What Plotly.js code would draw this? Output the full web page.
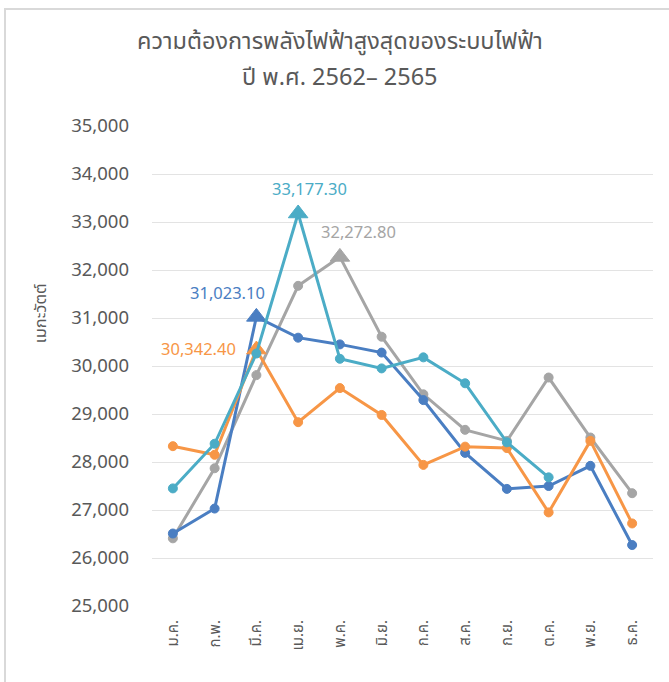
<!DOCTYPE html>
<html>
<head>
<meta charset="utf-8">
<script src="https://cdn.plot.ly/plotly-3.0.1.min.js"></script>
<style>
  html, body { margin: 0; padding: 0; background: #fff; overflow: hidden; }
  #chart { width: 669px; height: 682px; }
  #frame { position: absolute; left: 4px; top: 8px; width: 720px; height: 720px;
           border-left: 2px solid #d9d9d9; border-top: 2px solid #d9d9d9; pointer-events: none; }
</style>
</head>
<body>
<div id="chart"></div>
<div id="frame"></div>
<script>
// ---- data ----
const months = ["ม.ค.", "ก.พ.", "มี.ค.", "เม.ย.", "พ.ค.", "มิ.ย.", "ก.ค.", "ส.ค.", "ก.ย.", "ต.ค.", "พ.ย.", "ธ.ค."];
const y2562 = [26410, 27870, 29810, 31670, 32272.8, 30610, 29410, 28670, 28440, 29760, 28510, 27350];
const y2563 = [26510, 27030, 31023.1, 30590, 30450, 30280, 29290, 28190, 27440, 27500, 27920, 26270];
const y2564 = [28330, 28150, 30342.4, 28830, 29540, 28980, 27940, 28320, 28290, 26950, 28440, 26720];
const y2565 = [27450, 28380, 30260, 33177.3, 30150, 29950, 30180, 29640, 28410, 27680, null, null];
const yTicks = [25000, 26000, 27000, 28000, 29000, 30000, 31000, 32000, 33000, 34000, 35000];

const FONT = '"Noto Sans Thai", "Noto Sans", "DejaVu Sans", sans-serif';
const TXT = '#595959';

const series = [
  { name: "2562", y: y2562, color: "#A5A5A5", lx: 19, ly: 24 },
  { name: "2563", y: y2563, color: "#4A7EC2", lx: -29, ly: 23 },
  { name: "2564", y: y2564, color: "#F79646", lx: -58, ly: 0 },
  { name: "2565", y: y2565, color: "#4BACC6", lx: 11, ly: 24 }
];

function peakIndex(arr) {
  let bi = 0;
  arr.forEach((v, i) => { if (v !== null && v > arr[bi]) bi = i; });
  return bi;
}

const traces = [];
const annotations = [];
series.forEach(s => {
  const pk = peakIndex(s.y);
  traces.push({
    type: 'scatter', mode: 'lines+markers', name: s.name,
    x: months, y: s.y,
    line: { color: s.color, width: 3 },
    marker: {
      color: s.color, opacity: 1,
      line: { color: s.color, width: 1 },
      symbol: s.y.map((v, i) => i === pk ? 'triangle-up' : 'circle'),
      size: s.y.map((v, i) => i === pk ? 17 : 9)
    },
    connectgaps: false,
    hoverinfo: 'x+y'
  });
  annotations.push({
    x: months[pk], y: s.y[pk], xref: 'x', yref: 'y',
    text: s.y[pk].toLocaleString('en-US', { minimumFractionDigits: 2, maximumFractionDigits: 2 }),
    showarrow: false, xshift: s.lx, yshift: s.ly,
    font: { family: FONT, size: 16.5, color: s.color }
  });
});

annotations.push(
  { text: "ความต้องการพลังไฟฟ้าสูงสุดของระบบไฟฟ้า", xref: 'paper', yref: 'paper',
    x: 0.375, y: 1.175, xanchor: 'center', yanchor: 'middle', showarrow: false,
    font: { family: FONT, size: 23.5, color: TXT } },
  { text: "ปี พ.ศ. 2562– 2565", xref: 'paper', yref: 'paper',
    x: 0.375, y: 1.101, xanchor: 'center', yanchor: 'middle', showarrow: false,
    font: { family: FONT, size: 23.5, color: TXT } },
  { text: "เมกะวัตต์", xref: 'paper', yref: 'paper', textangle: -90,
    x: -0.2236, y: 0.61, xanchor: 'center', yanchor: 'middle', showarrow: false,
    font: { family: FONT, size: 16.5, color: TXT } }
);

const layout = {
  width: 669, height: 682,
  margin: { l: 152, r: 16, t: 126, b: 76 },
  paper_bgcolor: '#ffffff', plot_bgcolor: '#ffffff',
  showlegend: false,
  font: { family: FONT, color: TXT },
  xaxis: {
    type: 'category', range: [-0.5, 11.5], autorange: false,
    showgrid: false, zeroline: false, showline: false,
    tickangle: -90, ticks: '', ticklabelstandoff: 10,
    tickfont: { family: FONT, size: 15, color: TXT }
  },
  yaxis: {
    range: [25000, 35000], autorange: false, tickvals: yTicks, tickformat: ',.0f',
    showgrid: true, gridcolor: '#e3e3e3', gridwidth: 1, zeroline: false, showline: false,
    ticks: '', ticklabelstandoff: 22,
    tickfont: { family: FONT, size: 18.5, color: TXT }
  },
  annotations: annotations
};

Plotly.newPlot('chart', traces, layout, { displayModeBar: false, staticPlot: true });
</script>
</body>
</html>
